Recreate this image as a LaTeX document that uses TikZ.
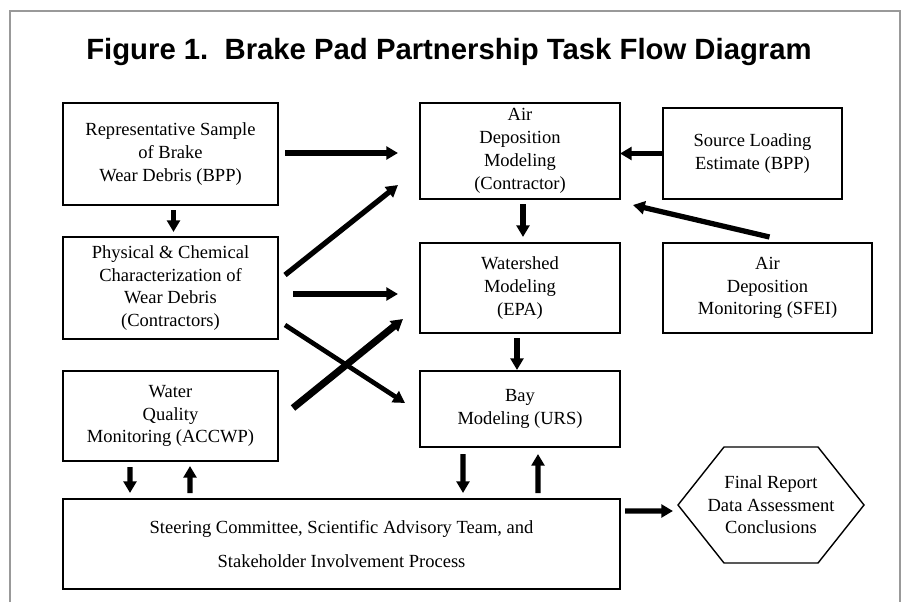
\documentclass[tikz,border=0pt]{standalone}
\usepackage{fontspec}
\setmainfont{Liberation Serif}
\newfontfamily\titlefont{Liberation Sans}
\usetikzlibrary{arrows.meta}

\begin{document}
\begin{tikzpicture}[x=0.03cm, y=0.03cm,
  box/.style={draw, line width=1.7pt, outer sep=0pt, align=center, font=\fontsize{15.8}{19.5}\selectfont},
  flow/.style={line width=4.5pt, -{Triangle[length=10pt,width=11pt]}}]
\useasboundingbox (0,0) rectangle (903,602);
\draw[black!40, line width=1.7pt] (10,0) -- (10,591) -- (900,591) -- (900,0);
\node[font=\titlefont\bfseries\fontsize{25}{30}\selectfont] (T) at (449,550) {Figure 1.\ \ Brake Pad Partnership Task Flow Diagram};

% left column
\node[box, minimum width=6.45cm, minimum height=3.06cm] (A) at (170.5,448) {Representative Sample\\of Brake\\Wear Debris (BPP)};
\node[box, minimum width=6.45cm, minimum height=3.06cm] (B) at (170.5,314) {Physical \& Chemical\\Characterization of\\Wear Debris\\(Contractors)};
\node[box, minimum width=6.45cm, minimum height=2.7cm] (C) at (170.5,186) {Water\\Quality\\Monitoring (ACCWP)};
\node[box, minimum width=16.71cm, minimum height=2.7cm, font=\fontsize{15.8}{29}\selectfont] (D) at (341.5,58) {Steering Committee, Scientific Advisory Team, and\\Stakeholder Involvement Process};

% middle and right
\node[box, minimum width=6cm, minimum height=2.88cm] (E) at (520,451) {Air\\Deposition\\Modeling\\(Contractor)};
\node[box, minimum width=5.37cm, minimum height=2.73cm] (F) at (752.5,448.5) {Source Loading\\Estimate (BPP)};
\node[box, minimum width=6cm, minimum height=2.7cm] (G) at (520,314) {Watershed\\Modeling\\(EPA)};
\node[box, minimum width=6.27cm, minimum height=2.7cm] (H) at (767.5,314) {Air\\Deposition\\Monitoring (SFEI)};
\node[box, minimum width=6cm, minimum height=2.28cm] (I) at (520,193) {Bay\\Modeling (URS)};
\node[align=center, outer sep=0pt, font=\fontsize{15.8}{19.2}\selectfont, minimum width=5.58cm, minimum height=3.48cm] (J) at (771,97) {Final Report\\Data Assessment\\Conclusions};
\draw[line width=1.2pt] (J.west) -- ([xshift=1.38cm]J.north west) -- ([xshift=-1.38cm]J.north east) -- (J.east) -- ([xshift=-1.38cm]J.south east) -- ([xshift=1.38cm]J.south west) -- cycle;

% arrows
\draw[flow] ([shift={(7,1)}]A.east) -- ([shift={(-22,-2)}]E.west);
\draw[flow] ([shift={(7,-38)}]B.north east) -- ([shift={(-22,14)}]E.south west);
\draw[flow] ([shift={(15,-6)}]B.east) -- ([shift={(-22,-6)}]G.west);
\draw[flow, line width=4pt] ([shift={(7,-37)}]B.east) -- ([shift={(-15,6)}]I.west);
\draw[flow, line width=6pt] ([shift={(15,8)}]C.east) -- ([shift={(-17,14)}]G.south west);
\draw[flow] ([shift={(3,-5)}]A.south) -- ([shift={(3,5)}]B.north);
\draw[flow] ([shift={(3,-5)}]E.south) -- ([shift={(3,6)}]G.north);
\draw[flow] (F.west) -- (F.west -| E.east);
\draw[flow] ([shift={(2,6)}]H.north) -- ([shift={(13,-6)}]E.south east);
\draw[flow] ([shift={(-3,-5)}]G.south) -- ([shift={(-3,1)}]I.north);
\draw[flow] ([shift={(-40.5,-6)}]C.south) -- ([shift={(67,6)}]D.north west);
\draw[flow] ([shift={(127,6)}]D.north west) -- ([shift={(19.5,-5)}]C.south);
\draw[flow] ([shift={(-57,-7)}]I.south) -- ([shift={(-157,6)}]D.north east);
\draw[flow] ([shift={(-82,6)}]D.north east) -- ([shift={(18,-7)}]I.south);
\draw[flow] ([shift={(5,-12)}]D.north east) -- ([shift={(-5,-6)}]J.west);
\end{tikzpicture}
\end{document}
